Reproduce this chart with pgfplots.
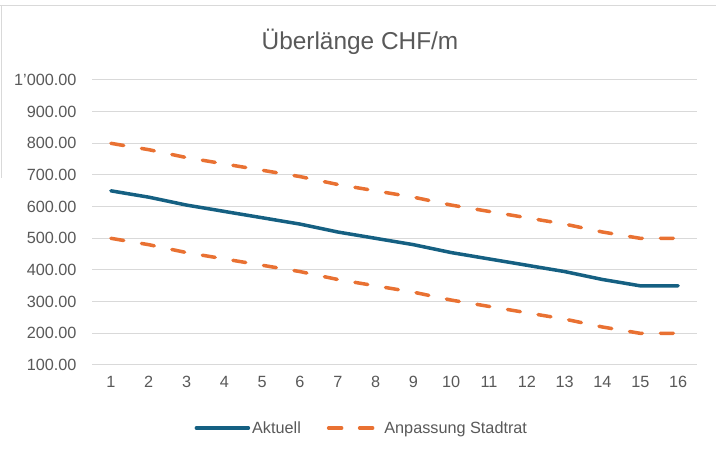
\documentclass[border=0pt]{standalone}
\usepackage{pgfplots}
\pgfplotsset{compat=1.18}
\usepackage{fontspec}
\setmainfont{Liberation Sans}
\definecolor{teal1}{HTML}{156082}
\definecolor{orng}{HTML}{E97132}
\definecolor{txt}{HTML}{595959}
\definecolor{grd}{HTML}{D9D9D9}
\begin{document}
\begin{tikzpicture}[x=1bp,y=1bp]
\path[use as bounding box] (0,0) rectangle (716,455);
\fill[white] (0,0) rectangle (716,455);
\draw[grd, line width=1bp] (0,449) -- (716,449);
\draw[grd, line width=1bp] (1,449) -- (1,277);
\node[text=txt, font=\fontsize{24.5}{28}\selectfont] at (360,413) {Überlänge CHF/m};
\begin{axis}[
  at={(92bp,90bp)}, anchor=south west,
  width=605bp, height=285bp, scale only axis,
  xmin=0.5, xmax=16.5, ymin=100, ymax=1000,
  xtick={1,...,16}, ytick={100,200,...,1000},
  ymajorgrids, grid style={grd, line width=1bp},
  axis line style={draw=none}, major tick length=0pt,
  tick label style={text=txt, font=\fontsize{16.3}{19}\selectfont},
  yticklabel style={/pgf/number format/.cd, fixed, fixed zerofill, precision=2, 1000 sep={'}, assume math mode=true},
  xticklabel style={/pgf/number format/assume math mode=true},
  yticklabel shift=12bp, xticklabel shift=8bp,
  legend columns=2,
  legend style={at={(0.446,-0.221)}, anchor=center, draw=none, fill=none,
    font=\fontsize{16.3}{19}\selectfont, text=txt,
    /tikz/every even column/.append style={column sep=24bp},
    inner sep=0pt, nodes={inner sep=2bp}},
  legend image code/.code={\draw[#1] (0bp,0bp) -- (52bp,0bp);},
]
\addplot[teal1, line width=3.5bp, line join=round, line cap=round] coordinates {
(1,650) (2,630) (3,605) (4,585) (5,565) (6,545) (7,520) (8,500)
(9,480) (10,455) (11,435) (12,415) (13,395) (14,370) (15,350) (16,350)};
\addlegendentry{Aktuell}
\addplot[orng, line width=3.5bp, line cap=round, dash pattern=on 13bp off 18bp] coordinates {
(1,800) (2,780) (3,755) (4,735) (5,715) (6,695) (7,670) (8,650)
(9,630) (10,605) (11,585) (12,565) (13,545) (14,520) (15,500) (16,500)};
\addlegendentry{Anpassung Stadtrat}
\addplot[orng, line width=3.5bp, line cap=round, dash pattern=on 13bp off 18bp, forget plot] coordinates {
(1,500) (2,480) (3,455) (4,435) (5,415) (6,395) (7,370) (8,350)
(9,330) (10,305) (11,285) (12,265) (13,245) (14,220) (15,200) (16,200)};
\end{axis}
\end{tikzpicture}
\end{document}
